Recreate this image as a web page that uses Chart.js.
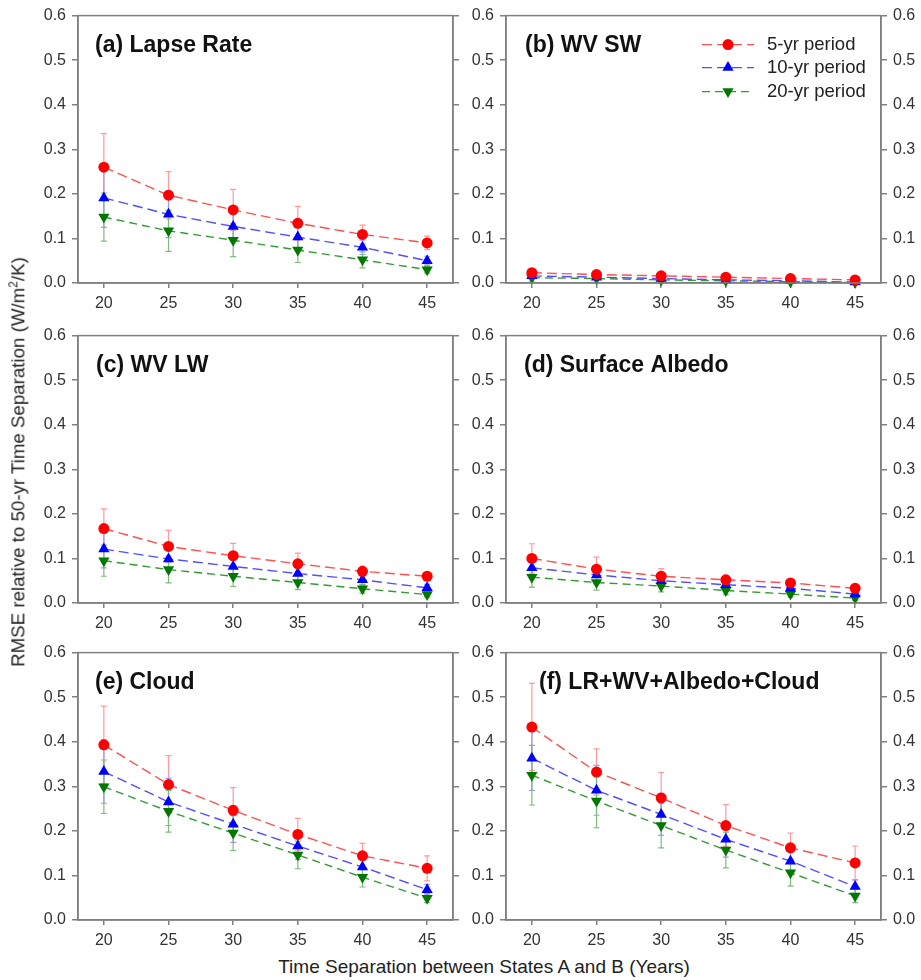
<!DOCTYPE html>
<html>
<head>
<meta charset="utf-8">
<script src="https://cdn.jsdelivr.net/npm/chart.js@4"></script>
<style>
  body { margin: 0; background: #fff; font-family: Arial, "Liberation Sans", sans-serif; }
  #page { position: relative; width: 921px; height: 980px; overflow: hidden; }
  canvas { position: absolute; }
  .ytitle {
    position: absolute; left: 18px; top: 462px; white-space: nowrap;
    transform: translate(-50%, -50%) rotate(-90deg);
    font-size: 18.7px; color: #222;
  }
  .xtitle {
    position: absolute; left: 484px; top: 967px; white-space: nowrap;
    transform: translate(-50%, -50%); font-size: 19px; color: #222;
  }
  sup { font-size: 12px; }
</style>
</head>
<body>
<div id="page">
  <canvas id="pa" width="443" height="318" style="left:20px;top:0px"></canvas>
  <canvas id="pb" width="459" height="318" style="left:462px;top:0px"></canvas>
  <canvas id="pc" width="443" height="318" style="left:20px;top:320px"></canvas>
  <canvas id="pd" width="459" height="318" style="left:462px;top:320px"></canvas>
  <canvas id="pe" width="443" height="318" style="left:20px;top:637px"></canvas>
  <canvas id="pf" width="459" height="318" style="left:462px;top:637px"></canvas>
  <div class="ytitle">RMSE relative to 50-yr Time Separation (W/m<sup>2</sup>/K)</div>
  <div class="xtitle">Time Separation between States A and B (Years)</div>
</div>
<script>
// Time separation (x) and tick labels
const separation = [20, 25, 30, 35, 40, 45];
const xTicks = [20, 25, 30, 35, 40, 45];
const yTicks = [0, 0.1, 0.2, 0.3, 0.4, 0.5, 0.6];
const seriesNames = ['5-yr period', '10-yr period', '20-yr period'];

// (a) Lapse Rate
const lapse5 = [0.260, 0.197, 0.164, 0.134, 0.109, 0.090];
const lapse5Err = [0.075, 0.053, 0.046, 0.038, 0.021, 0.015];
const lapse10 = [0.191, 0.154, 0.127, 0.103, 0.080, 0.050];
const lapse10Err = [0.066, 0.052, 0.033, 0.025, 0.016, 0.010];
const lapse20 = [0.148, 0.117, 0.096, 0.074, 0.052, 0.030];
const lapse20Err = [0.054, 0.046, 0.037, 0.028, 0.018, 0.008];

// (b) WV SW
const wvsw5 = [0.023, 0.019, 0.016, 0.013, 0.010, 0.007];
const wvsw5Err = [0.004, 0.003, 0.003, 0.002, 0.002, 0.002];
const wvsw10 = [0.016, 0.013, 0.010, 0.007, 0.005, 0.002];
const wvsw10Err = [0.004, 0.003, 0.003, 0.002, 0.002, 0.002];
const wvsw20 = [0.012, 0.010, 0.007, 0.005, 0.003, 0.001];
const wvsw20Err = [0.010, 0.009, 0.008, 0.007, 0.006, 0.005];

// (c) WV LW
const wvlw5 = [0.167, 0.127, 0.106, 0.088, 0.071, 0.060];
const wvlw5Err = [0.044, 0.036, 0.028, 0.024, 0.012, 0.008];
const wvlw10 = [0.121, 0.099, 0.082, 0.066, 0.052, 0.034];
const wvlw10Err = [0.042, 0.030, 0.022, 0.016, 0.012, 0.008];
const wvlw20 = [0.095, 0.075, 0.060, 0.046, 0.032, 0.019];
const wvlw20Err = [0.035, 0.030, 0.023, 0.016, 0.010, 0.006];

// (d) Surface Albedo
const albedo5 = [0.100, 0.076, 0.060, 0.052, 0.045, 0.033];
const albedo5Err = [0.033, 0.027, 0.017, 0.010, 0.008, 0.006];
const albedo10 = [0.079, 0.063, 0.050, 0.041, 0.033, 0.020];
const albedo10Err = [0.025, 0.020, 0.014, 0.010, 0.008, 0.006];
const albedo20 = [0.058, 0.046, 0.038, 0.028, 0.020, 0.011];
const albedo20Err = [0.023, 0.017, 0.013, 0.009, 0.007, 0.005];

// (e) Cloud
const cloud5 = [0.393, 0.304, 0.246, 0.192, 0.144, 0.116];
const cloud5Err = [0.087, 0.065, 0.051, 0.036, 0.028, 0.028];
const cloud10 = [0.333, 0.265, 0.215, 0.166, 0.119, 0.068];
const cloud10Err = [0.071, 0.053, 0.041, 0.030, 0.020, 0.012];
const cloud20 = [0.299, 0.244, 0.195, 0.146, 0.096, 0.049];
const cloud20Err = [0.060, 0.047, 0.039, 0.031, 0.022, 0.010];

// (f) LR+WV+Albedo+Cloud
const total5 = [0.433, 0.332, 0.274, 0.212, 0.162, 0.128];
const total5Err = [0.098, 0.052, 0.057, 0.047, 0.033, 0.038];
const total10 = [0.363, 0.291, 0.237, 0.181, 0.132, 0.075];
const total10Err = [0.072, 0.056, 0.047, 0.040, 0.025, 0.015];
const total20 = [0.325, 0.267, 0.212, 0.157, 0.106, 0.054];
const total20Err = [0.067, 0.060, 0.050, 0.040, 0.030, 0.015];

// Series styles
const seriesStyles = [
    { line: '#ff5050', point: '#ff0000', err: '#ff9a9a', shape: 'circle', rotation: 0, radius: 5.5, dash: [10, 5] },
    { line: '#5050ff', point: '#0000ff', err: '#9a9aff', shape: 'triangle', rotation: 0, radius: 6.5, dash: [10, 5] },
    { line: '#359a35', point: '#007800', err: '#7cbc7c', shape: 'triangle', rotation: 180, radius: 6.5, dash: [8, 5] }
];

const AXIS_COLOR = '#808080';
const TEXT_COLOR = '#333';
Chart.defaults.font.family = 'Arial, "Liberation Sans", sans-serif';

// Error bars drawn through the chart's own scales
const errorBarPlugin = {
    id: 'errorBars',
    beforeDatasetsDraw(chart) {
        const { ctx, chartArea, scales } = chart;
        ctx.save();
        ctx.beginPath();
        ctx.rect(chartArea.left, chartArea.top - 2, chartArea.width, chartArea.height + 2);
        ctx.clip();
        chart.data.datasets.forEach((ds, i) => {
            ctx.strokeStyle = seriesStyles[i].err;
            ctx.lineWidth = 1.2;
            ds.data.forEach((p, j) => {
                const e = ds.errors[j];
                const px = scales.x.getPixelForValue(p.x);
                const top = scales.y.getPixelForValue(p.y + e);
                const bot = scales.y.getPixelForValue(p.y - e);
                ctx.beginPath();
                ctx.moveTo(px, top); ctx.lineTo(px, bot);
                ctx.moveTo(px - 3, top); ctx.lineTo(px + 3, top);
                ctx.moveTo(px - 3, bot); ctx.lineTo(px + 3, bot);
                ctx.stroke();
            });
        });
        ctx.restore();
    }
};

// Frame around plot area and panel title
const framePlugin = {
    id: 'frame',
    afterDraw(chart, args, opts) {
        const { ctx, chartArea } = chart;
        ctx.save();
        ctx.strokeStyle = AXIS_COLOR;
        ctx.lineWidth = 1.5;
        ctx.strokeRect(chartArea.left, chartArea.top, chartArea.width, chartArea.height);
        ctx.fillStyle = '#111';
        ctx.font = 'bold 23px Arial, "Liberation Sans", sans-serif';
        ctx.textBaseline = 'middle';
        ctx.fillText(opts.title, chartArea.left + opts.dx, chartArea.top + 30);
        ctx.restore();
    }
};

// Legend for panel (b)
const legendPlugin = {
    id: 'lineLegend',
    afterDraw(chart, args, opts) {
        if (!opts.show) return;
        const { ctx, chartArea } = chart;
        const rows = [29, 52, 76];
        ctx.save();
        seriesNames.forEach((name, i) => {
            const st = seriesStyles[i];
            const y = chartArea.top + rows[i];
            const x0 = chartArea.left + 196;
            ctx.strokeStyle = st.line;
            ctx.lineWidth = 1.4;
            ctx.setLineDash(st.dash);
            ctx.beginPath();
            ctx.moveTo(x0, y); ctx.lineTo(x0 + 52, y);
            ctx.stroke();
            ctx.setLineDash([]);
            ctx.fillStyle = st.point;
            Chart.helpers.drawPoint(ctx, {
                pointStyle: st.shape, radius: st.radius, rotation: st.rotation, borderWidth: 0
            }, x0 + 26, y);
            ctx.fillStyle = '#222';
            ctx.font = '18.5px Arial, "Liberation Sans", sans-serif';
            ctx.textBaseline = 'middle';
            ctx.fillText(name, chartArea.left + 261, y);
        });
        ctx.restore();
    }
};

function makeDatasets(values, errors) {
    return values.map((vals, i) => {
        const st = seriesStyles[i];
        return {
            label: seriesNames[i],
            data: separation.map((x, j) => ({ x: x, y: vals[j] })),
            errors: errors[i],
            borderColor: st.line,
            borderWidth: 1.4,
            borderDash: st.dash,
            backgroundColor: st.point,
            pointBackgroundColor: st.point,
            pointBorderWidth: 0,
            pointBorderColor: st.point,
            pointStyle: st.shape,
            pointRotation: st.rotation,
            pointRadius: st.radius,
            tension: 0,
            clip: false
        };
    });
}

function yAxis(position, width, showLabels) {
    return {
        type: 'linear',
        position: position,
        min: 0,
        max: 0.6,
        afterBuildTicks: s => { s.ticks = yTicks.map(v => ({ value: v })); },
        afterFit: s => { s.width = width; },
        grid: { drawOnChartArea: false, tickLength: 6, color: AXIS_COLOR, lineWidth: 1.5 },
        border: { color: AXIS_COLOR, width: 1.5 },
        ticks: {
            display: showLabels,
            padding: 6,
            color: TEXT_COLOR,
            font: { size: 16 },
            callback: v => Number(v).toFixed(1)
        }
    };
}

function makePanel(id, title, dx, values, errors, isRight, showLegend) {
    new Chart(document.getElementById(id), {
        type: 'line',
        data: { datasets: makeDatasets(values, errors) },
        options: {
            responsive: false,
            animation: false,
            layout: { autoPadding: false, padding: { top: 10, bottom: 0, left: 0, right: 0 } },
            plugins: {
                legend: { display: false },
                tooltip: { enabled: false },
                frame: { title: title, dx: dx },
                lineLegend: { show: showLegend }
            },
            scales: {
                x: {
                    type: 'linear',
                    position: 'bottom',
                    min: 18,
                    max: 47,
                    afterBuildTicks: s => { s.ticks = xTicks.map(v => ({ value: v })); },
                    afterFit: s => { s.height = 35; },
                    grid: { drawOnChartArea: false, tickLength: 5, color: AXIS_COLOR, lineWidth: 1.5 },
                    border: { color: AXIS_COLOR, width: 1.5 },
                    ticks: { padding: 6, color: TEXT_COLOR, font: { size: 16 }, maxRotation: 0 }
                },
                y: yAxis('left', isRight ? 44 : 58, true),
                y2: yAxis('right', isRight ? 40 : 10, isRight)
            }
        },
        plugins: [errorBarPlugin, framePlugin, legendPlugin]
    });
}

makePanel('pa', '(a) Lapse Rate', 17,
    [lapse5, lapse10, lapse20], [lapse5Err, lapse10Err, lapse20Err], false, false);
makePanel('pb', '(b) WV SW', 19,
    [wvsw5, wvsw10, wvsw20], [wvsw5Err, wvsw10Err, wvsw20Err], true, true);
makePanel('pc', '(c) WV LW', 18,
    [wvlw5, wvlw10, wvlw20], [wvlw5Err, wvlw10Err, wvlw20Err], false, false);
makePanel('pd', '(d) Surface Albedo', 18,
    [albedo5, albedo10, albedo20], [albedo5Err, albedo10Err, albedo20Err], true, false);
makePanel('pe', '(e) Cloud', 17,
    [cloud5, cloud10, cloud20], [cloud5Err, cloud10Err, cloud20Err], false, false);
makePanel('pf', '(f) LR+WV+Albedo+Cloud', 33,
    [total5, total10, total20], [total5Err, total10Err, total20Err], true, false);
</script>
</body>
</html>
